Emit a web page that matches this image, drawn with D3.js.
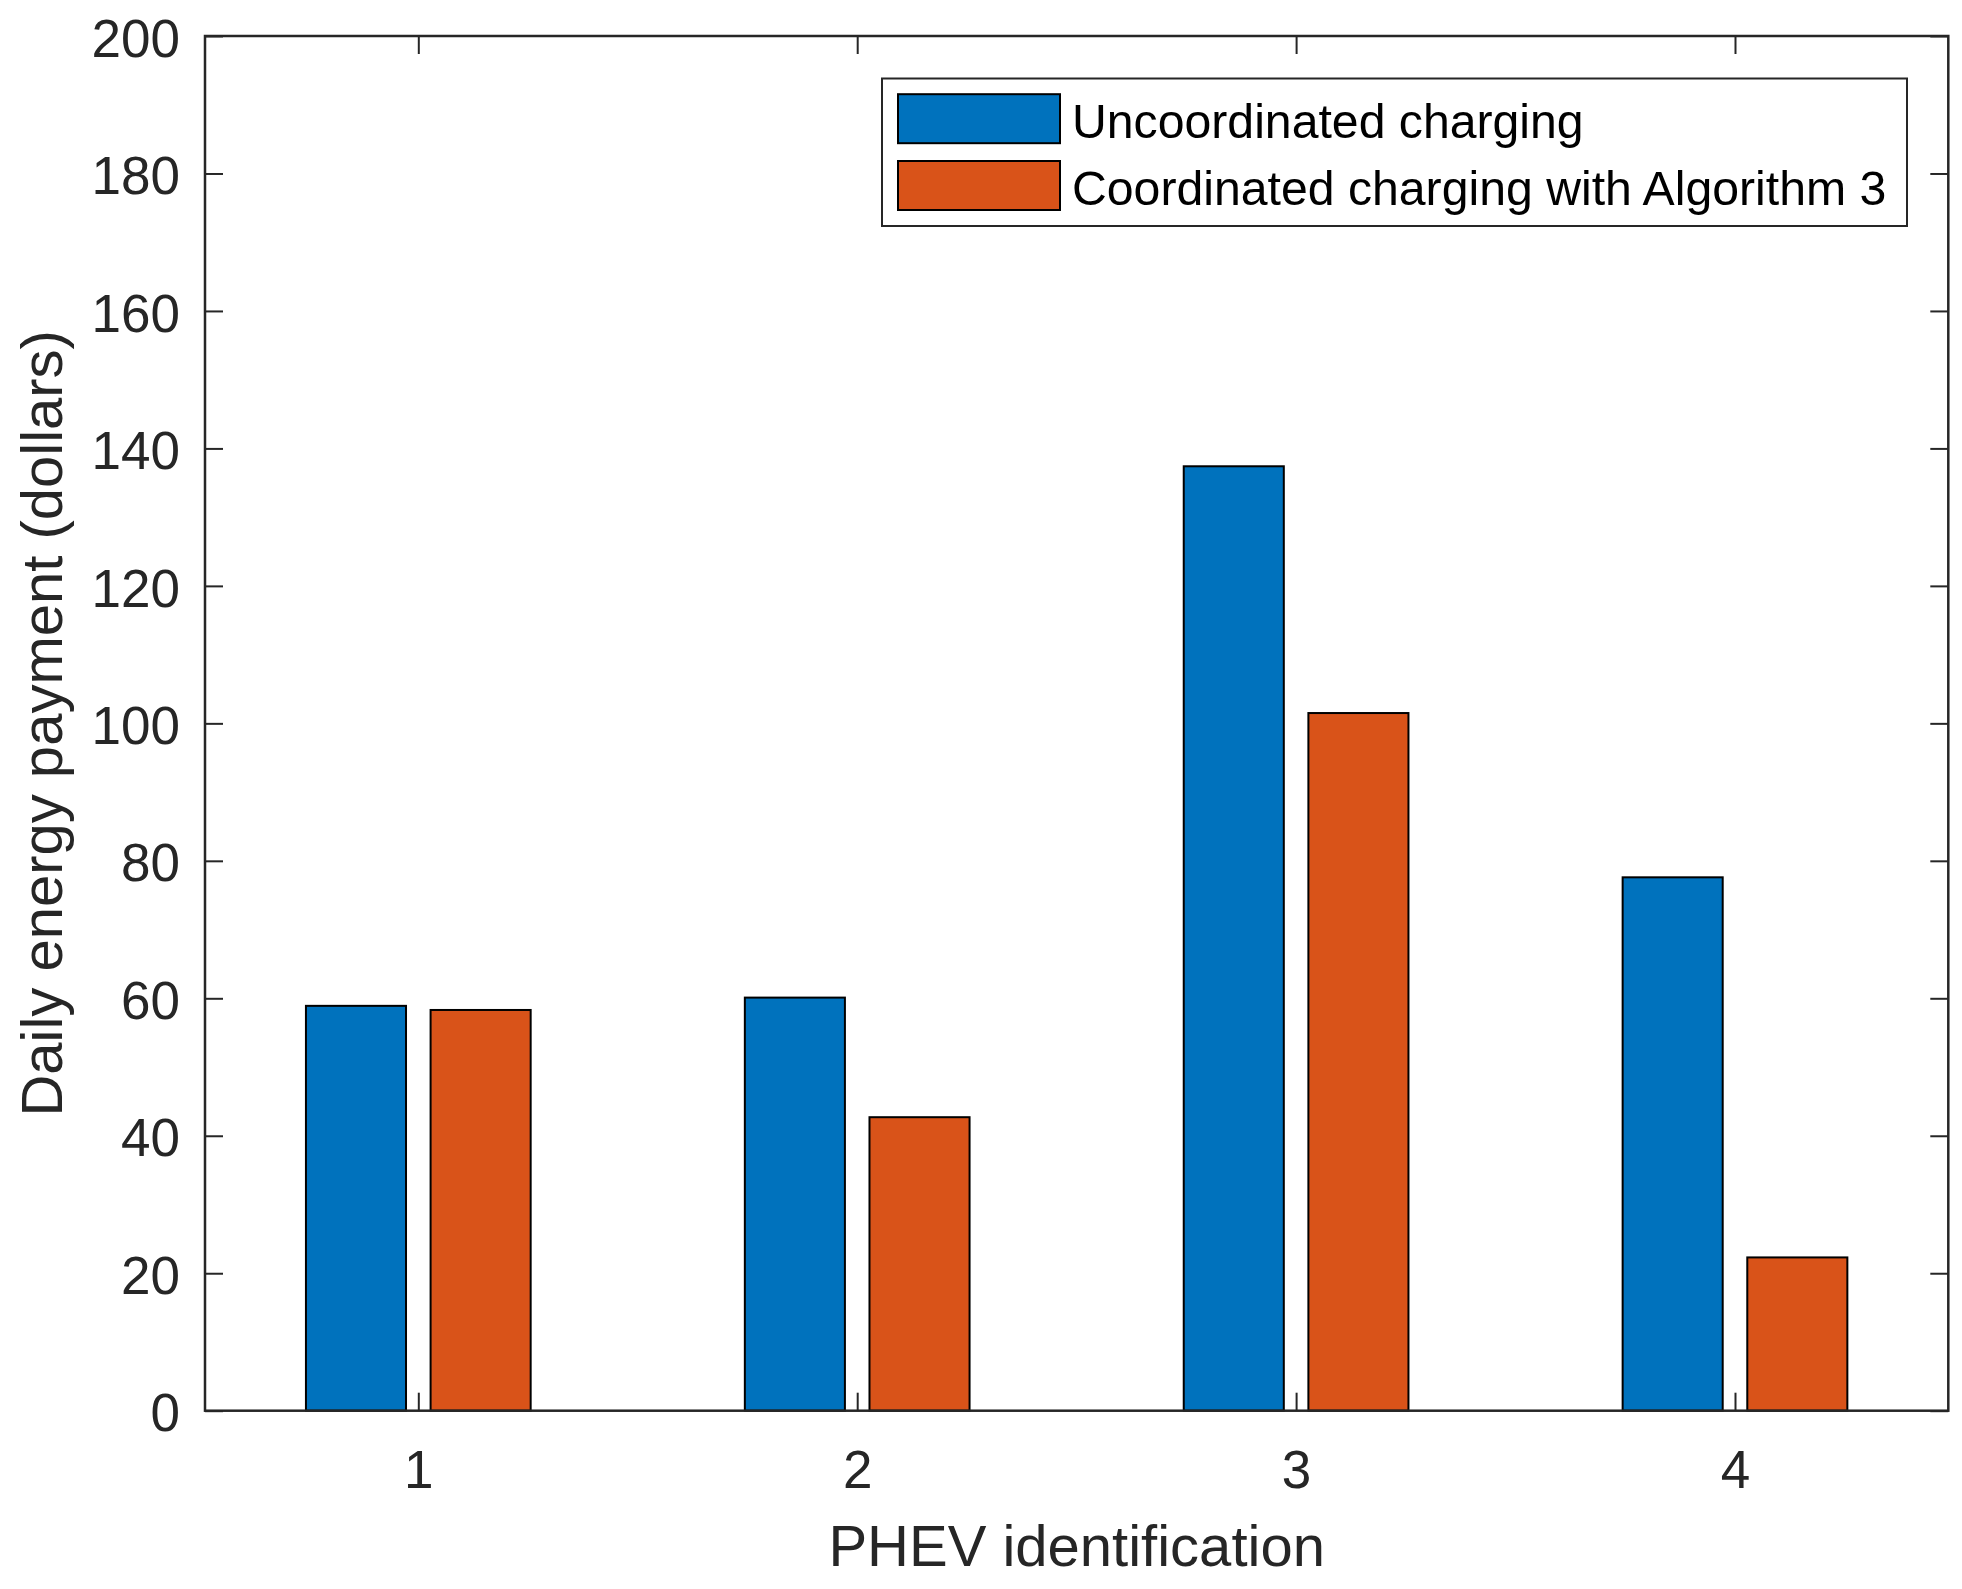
<!DOCTYPE html>
<html>
<head>
<meta charset="utf-8">
<script src="https://cdn.jsdelivr.net/npm/d3@7"></script>
<style>
  body { margin: 0; background: #fff; }
  svg { display: block; font-family: "Liberation Sans", Arial, Helvetica, sans-serif; }
</style>
</head>
<body>
<svg id="chart" width="1962" height="1589"></svg>
<script>
// data
const phevIds = [1, 2, 3, 4];
const uncoordinated = [58.9, 60.1, 137.4, 77.6];
const coordinated = [58.3, 42.7, 101.5, 22.3];
const seriesNames = ["Uncoordinated charging", "Coordinated charging with Algorithm 3"];
const seriesColors = ["#0072BD", "#D95319"];
const yTicks = [0, 20, 40, 60, 80, 100, 120, 140, 160, 180, 200];

const svg = d3.select("#chart");
const plotL = 205, plotR = 1948.3, plotT = 36, plotB = 1410.7;
const axisColor = "#262626";

const x = d3.scaleLinear().domain([0.514, 4.486]).range([plotL, plotR]);
const y = d3.scaleLinear().domain([0, 200]).range([plotB, plotT]);

// bars
const barW = 0.228, barOff = 0.142;
const series = [uncoordinated, coordinated];
series.forEach((vals, s) => {
    const off = s === 0 ? -barOff : barOff;
    svg.append("g").selectAll("rect")
        .data(vals)
        .enter()
        .append("rect")
        .attr("x", (d, i) => x(phevIds[i] + off - barW / 2))
        .attr("width", x(barW) - x(0))
        .attr("y", d => y(d))
        .attr("height", d => y(0) - y(d))
        .attr("fill", seriesColors[s])
        .attr("stroke", "#000")
        .attr("stroke-width", 2);
});

// axes (ticks pointing inward, on all four sides)
const tick = 18;
const styleAxis = g => {
    g.select(".domain").remove();
    g.selectAll(".tick line").attr("stroke", axisColor).attr("stroke-width", 2);
    g.selectAll(".tick text").attr("fill", axisColor).attr("font-size", 53)
        .attr("font-family", "Liberation Sans, Arial, sans-serif");
};

svg.append("g")
    .attr("transform", `translate(0,${plotB})`)
    .call(d3.axisBottom(x).tickValues(phevIds).tickFormat(d3.format("d")).tickSizeInner(-tick).tickSizeOuter(0).tickPadding(40))
    .call(styleAxis)
    .selectAll(".tick text").attr("dy", "0.71em");

svg.append("g")
    .attr("transform", `translate(0,${plotT})`)
    .call(d3.axisTop(x).tickValues(phevIds).tickFormat("").tickSizeInner(-tick).tickSizeOuter(0))
    .call(styleAxis);

svg.append("g")
    .attr("transform", `translate(${plotL},0)`)
    .call(d3.axisLeft(y).tickValues(yTicks).tickFormat(d3.format("d")).tickSizeInner(-tick).tickSizeOuter(0).tickPadding(25))
    .call(styleAxis)
    .selectAll(".tick text").attr("dy", "0.38em");

svg.append("g")
    .attr("transform", `translate(${plotR},0)`)
    .call(d3.axisRight(y).tickValues(yTicks).tickFormat("").tickSizeInner(-tick).tickSizeOuter(0))
    .call(styleAxis);

// frame
svg.append("rect")
    .attr("x", plotL).attr("y", plotT)
    .attr("width", plotR - plotL).attr("height", plotB - plotT)
    .attr("fill", "none").attr("stroke", axisColor).attr("stroke-width", 2.5);

// axis labels
svg.append("text")
    .attr("x", (plotL + plotR) / 2).attr("y", 1566)
    .attr("text-anchor", "middle")
    .attr("font-size", 58).attr("fill", axisColor)
    .text("PHEV identification");

svg.append("text")
    .attr("transform", `translate(62,${(plotT + plotB) / 2}) rotate(-90)`)
    .attr("text-anchor", "middle")
    .attr("font-size", 58).attr("fill", axisColor)
    .text("Daily energy payment (dollars)");

// legend
const legend = svg.append("g");
legend.append("rect")
    .attr("x", 882).attr("y", 78.5)
    .attr("width", 1025).attr("height", 147.5)
    .attr("fill", "#fff").attr("stroke", axisColor).attr("stroke-width", 2);

const rowCenters = [118.7, 185.5];
seriesNames.forEach((name, i) => {
    legend.append("rect")
        .attr("x", 898).attr("y", rowCenters[i] - 24.5)
        .attr("width", 162).attr("height", 49)
        .attr("fill", seriesColors[i]).attr("stroke", "#000").attr("stroke-width", 2);
    legend.append("text")
        .attr("x", 1072).attr("y", rowCenters[i] + 19)
        .attr("font-size", 48.2).attr("fill", "#000")
        .text(name);
});
</script>
</body>
</html>
